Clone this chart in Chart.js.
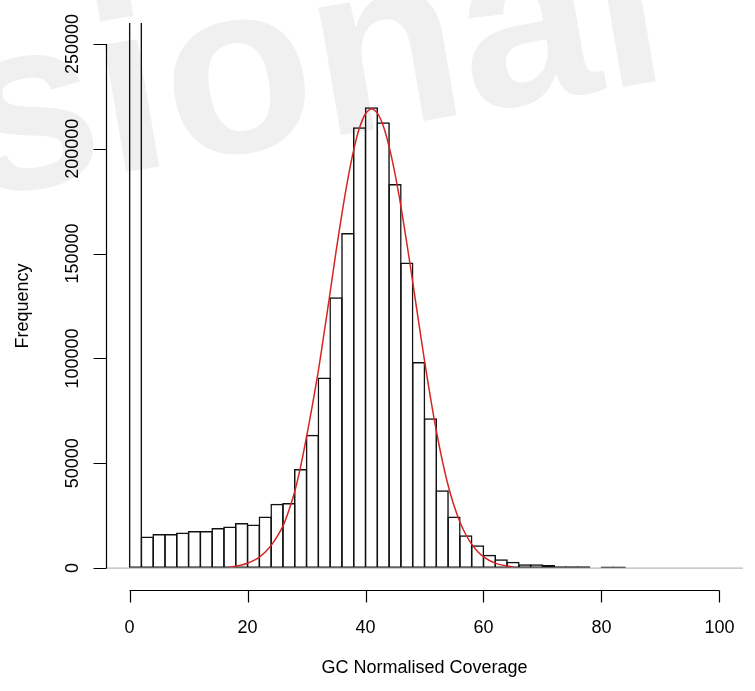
<!DOCTYPE html>
<html>
<head>
<meta charset="utf-8">
<script src="https://cdn.jsdelivr.net/npm/chart.js@4"></script>
<style>
  body { margin: 0; background: #fff; }
  #wrap { width: 755px; height: 691px; position: relative; }
</style>
</head>
<body>
<div id="wrap"><canvas id="hist"></canvas></div>
<script>
// histogram bins (width 2), mid points and counts
const binMids = [1, 3, 5, 7, 9, 11, 13, 15, 17, 19, 21, 23, 25, 27, 29, 31, 33, 35, 37, 39,
                 41, 43, 45, 47, 49, 51, 53, 55, 57, 59, 61, 63, 65, 67, 69, 71, 73, 75, 77, 79, 81, 83];
const counts = [1000000, 15100, 16200, 16200, 17000, 17650, 17650, 19100, 19850, 21500,
                20800, 24600, 30700, 31000, 47200, 63600, 90950, 129200, 159800, 210300,
                219800, 212600, 183200, 145800, 98300, 71400, 37100, 24600, 15600, 10900,
                6300, 4200, 3000, 1800, 1800, 1500, 900, 900, 900, 0, 700, 700];

// red fitted curve
const fitX = [17, 18, 19, 20, 21, 22, 23, 24, 25, 26, 27, 28, 29, 30, 31, 32, 33, 34, 35, 36, 37, 38, 39, 40,
              41, 42, 43, 44, 45, 46, 47, 48, 49, 50, 51, 52, 53, 54, 55, 56, 57, 58, 59, 60, 61, 62, 63, 64, 65];
const fitY = [500, 900, 1450, 2280, 3500, 5200, 7650, 10800, 15000, 20000, 27500, 36500, 48500, 62600,
              77800, 94000, 112500, 131500, 150900, 169000, 185500, 199500, 210100, 216700,
              219000, 217000, 211000, 201000, 188000, 172500, 155000, 136500, 117500, 99000,
              81500, 65500, 51500, 39500, 29800, 22000, 16000, 11400, 7900, 5400, 3600, 2350,
              1500, 950, 580];

const xTicks = [0, 20, 40, 60, 80, 100];
const yTicks = [0, 50000, 100000, 150000, 200000, 250000];

const FONT = '18px "Liberation Sans", Arial, sans-serif';

// faint watermark behind the plot
const watermark = {
    id: 'watermark',
    beforeDatasetsDraw(chart) {
        const ctx = chart.ctx;
        ctx.save();
        ctx.translate(-25, 198);
        ctx.rotate(-0.17);
        ctx.font = 'bold 245px "Liberation Sans", Arial, sans-serif';
        ctx.fillStyle = 'rgba(0,0,0,0.06)';
        ctx.fillText('sional', 0, 0);
        ctx.restore();
    }
};

// R style axes: separate lines, outward ticks, rotated y labels
const rAxes = {
    id: 'rAxes',
    afterDatasetsDraw(chart) {
        const ctx = chart.ctx;
        const xs = chart.scales.x, ys = chart.scales.y;
        const area = chart.chartArea;

        // grey zero line across the plot region
        ctx.save();
        ctx.strokeStyle = '#b8b8b8';
        ctx.lineWidth = 1.3;
        ctx.beginPath();
        ctx.moveTo(area.left, ys.getPixelForValue(0));
        ctx.lineTo(area.right, ys.getPixelForValue(0));
        ctx.stroke();

        ctx.strokeStyle = '#000';
        ctx.lineWidth = 1.2;
        ctx.fillStyle = '#000';
        ctx.font = FONT;

        // x axis
        const xb = area.bottom + 1.5;
        ctx.beginPath();
        ctx.moveTo(xs.getPixelForValue(xTicks[0]), xb);
        ctx.lineTo(xs.getPixelForValue(xTicks[xTicks.length - 1]), xb);
        xTicks.forEach(t => {
            const px = Math.round(xs.getPixelForValue(t)) + 0.5;
            ctx.moveTo(px, xb);
            ctx.lineTo(px, xb + 12);
        });
        ctx.stroke();
        ctx.textAlign = 'center';
        ctx.textBaseline = 'middle';
        xTicks.forEach(t => ctx.fillText(String(t), xs.getPixelForValue(t), 628));
        ctx.fillText('GC Normalised Coverage', (area.left + area.right) / 2, 668);

        // y axis
        const yl = Math.round(area.left) + 0.5;
        ctx.beginPath();
        ctx.moveTo(yl, ys.getPixelForValue(yTicks[0]));
        ctx.lineTo(yl, ys.getPixelForValue(yTicks[yTicks.length - 1]));
        yTicks.forEach(t => {
            const py = Math.round(ys.getPixelForValue(t)) + 0.5;
            ctx.moveTo(yl, py);
            ctx.lineTo(yl - 13, py);
        });
        ctx.stroke();
        yTicks.forEach(t => {
            ctx.save();
            ctx.translate(73, ys.getPixelForValue(t));
            ctx.rotate(-Math.PI / 2);
            ctx.fillText(String(t), 0, 0);
            ctx.restore();
        });
        ctx.save();
        ctx.translate(23, (area.top + area.bottom) / 2);
        ctx.rotate(-Math.PI / 2);
        ctx.fillText('Frequency', 0, 0);
        ctx.restore();
        ctx.restore();
    }
};

// bars overlap by one border width so neighbouring borders share a single line
const binPx = 2 * (755 - 106 - 12) / 108;
const barLine = 1.5;

new Chart(document.getElementById('hist').getContext('2d'), {
    type: 'bar',
    data: {
        datasets: [{
            type: 'line',
            data: fitX.map((x, i) => ({ x: x, y: fitY[i] })),
            borderColor: '#d62424',
            borderWidth: 1.5,
            pointRadius: 0,
            tension: 0.3,
            fill: false,
            order: 0
        }, {
            data: binMids.map((x, i) => ({ x: x, y: counts[i] })),
            backgroundColor: 'rgba(255,255,255,0)',
            borderColor: '#111',
            borderWidth: barLine,
            borderSkipped: false,
            barPercentage: (binPx + barLine) / binPx,
            categoryPercentage: 1,
            order: 1
        }]
    },
    options: {
        responsive: true,
        maintainAspectRatio: false,
        animation: false,
        layout: {
            padding: { left: 106, right: 12, top: 23, bottom: 102 }
        },
        plugins: {
            legend: { display: false },
            tooltip: { enabled: false }
        },
        scales: {
            x: { type: 'linear', min: -4, max: 104, offset: false, display: false },
            y: { min: -10000, max: 260000, display: false }
        }
    },
    plugins: [watermark, rAxes]
});
</script>
</body>
</html>
